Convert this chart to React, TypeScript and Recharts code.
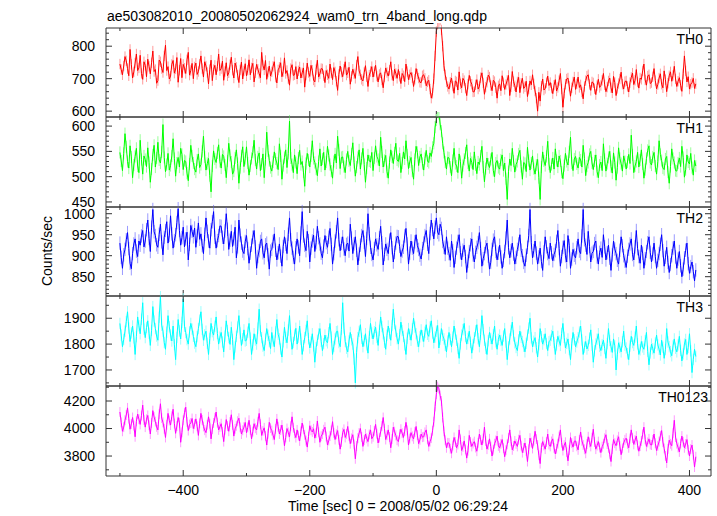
import React from 'react';
import { LineChart, Line, XAxis, YAxis, ErrorBar } from 'recharts';

// light curves sampled every DT seconds starting at T0
const T0 = -500;
const DT = 2;

const th0 = [
  745, 728, 712, 739, 768, 755, 731, 709, 790, 744, 702, 721, 748, 776, 725, 733, 772, 716, 698, 752,
  741, 706, 760, 738, 715, 749, 785, 722, 728, 686, 694, 757, 752, 731, 719, 770, 803, 725, 737, 699,
  708, 744, 756, 717, 730, 765, 689, 726, 762, 703, 744, 732, 716, 758, 781, 711, 725, 747, 700, 736,
  748, 713, 722, 745, 770, 731, 705, 752, 739, 719, 684, 728, 757, 694, 728, 741, 712, 738, 776, 725,
  731, 754, 695, 722, 749, 709, 718, 743, 766, 726, 702, 748, 735, 711, 688, 727, 751, 699, 724, 746,
  709, 726, 758, 712, 733, 747, 690, 718, 744, 729, 716, 703, 781, 741, 727, 756, 698, 720, 739, 708,
  721, 738, 752, 705, 687, 727, 735, 749, 706, 722, 764, 716, 725, 700, 680, 731, 743, 710, 712, 737,
  699, 724, 736, 702, 718, 733, 674, 711, 748, 719, 707, 741, 726, 696, 690, 728, 757, 705, 715, 731,
  730, 709, 688, 725, 712, 701, 745, 718, 697, 734, 721, 692, 664, 713, 739, 720, 706, 729, 752, 711,
  718, 735, 683, 707, 729, 715, 701, 742, 768, 724, 712, 698, 693, 719, 740, 706, 676, 711, 722, 737,
  705, 722, 741, 708, 690, 713, 718, 696, 672, 705, 733, 719, 708, 726, 752, 711, 694, 729, 716, 701,
  728, 707, 685, 716, 709, 691, 745, 722, 697, 712, 719, 703, 676, 698, 731, 714, 702, 689, 688, 709,
  712, 701, 678, 690, 695, 668, 640, 655, 700, 770, 845, 868, 875, 880, 850, 800, 740, 712, 690, 676,
  668, 689, 702, 677, 655, 693, 690, 665, 721, 684, 672, 701, 694, 671, 648, 683, 710, 692, 683, 659,
  660, 681, 697, 668, 676, 703, 718, 687, 652, 674, 689, 711, 705, 679, 663, 695, 691, 672, 640, 678,
  684, 663, 709, 688, 667, 682, 695, 710, 648, 675, 722, 691, 678, 659, 690, 704, 657, 686, 701, 670,
  675, 692, 645, 668, 693, 681, 712, 684, 662, 640, 600, 658, 631, 677, 699, 665, 670, 688, 708, 679,
  688, 671, 654, 680, 697, 662, 673, 694, 716, 668, 612, 655, 683, 699, 702, 677, 646, 672, 690, 705,
  667, 684, 705, 673, 681, 659, 638, 676, 694, 708, 712, 682, 664, 690, 687, 669, 651, 679, 698, 673,
  679, 695, 716, 681, 660, 674, 693, 702, 672, 656, 707, 688, 648, 670, 685, 699, 720, 683, 668, 691,
  693, 676, 659, 688, 704, 717, 682, 695, 728, 690, 671, 702, 698, 724, 745, 696, 680, 708, 712, 685,
  688, 706, 731, 694, 669, 682, 702, 715, 683, 672, 724, 697, 660, 686, 709, 721, 692, 710, 738, 699,
  676, 692, 703, 680, 661, 715, 770, 724, 690, 706, 668, 683, 688, 701, 670, 684,
];

const th1 = [
  548, 531, 512, 546, 585, 559, 530, 517, 561, 539, 498, 523, 540, 556, 521, 508, 572, 534, 505, 541,
  534, 520, 557, 528, 489, 515, 543, 562, 519, 537, 568, 533, 527, 549, 603, 538, 510, 524, 546, 513,
  522, 541, 575, 536, 501, 527, 538, 519, 556, 544, 514, 532, 530, 507, 492, 525, 562, 541, 527, 515,
  509, 533, 545, 518, 524, 550, 580, 539, 513, 526, 536, 502, 470, 521, 551, 535, 528, 547, 563, 530,
  517, 544, 540, 523, 498, 531, 566, 542, 529, 505, 511, 537, 553, 526, 487, 518, 541, 559, 520, 536,
  559, 527, 503, 521, 536, 548, 572, 533, 515, 539, 547, 512, 525, 545, 498, 534, 588, 551, 532, 518,
  511, 529, 549, 535, 527, 514, 565, 541, 495, 522, 538, 553, 518, 546, 610, 537, 524, 508, 543, 528,
  506, 537, 552, 524, 530, 509, 481, 526, 546, 533, 519, 541, 571, 536, 528, 515, 502, 530, 555, 521,
  535, 548, 513, 529, 560, 542, 524, 511, 497, 530, 545, 527, 580, 553, 516, 538, 539, 520, 508, 534,
  550, 531, 522, 545, 567, 528, 501, 519, 538, 553, 515, 536, 556, 524, 489, 517, 543, 531, 529, 548,
  512, 537, 561, 540, 534, 521, 578, 549, 519, 532, 542, 510, 497, 528, 553, 539, 526, 547, 566, 533,
  530, 546, 508, 527, 549, 535, 571, 543, 516, 529, 538, 511, 495, 534, 560, 548, 522, 539, 545, 526,
  513, 536, 552, 531, 528, 547, 540, 558, 566, 598, 612, 630, 625, 604, 590, 566, 548, 529, 515, 538,
  537, 519, 502, 532, 556, 526, 521, 508, 545, 530, 497, 522, 534, 547, 563, 527, 511, 536, 528, 514,
  549, 523, 506, 529, 524, 541, 560, 519, 490, 516, 537, 525, 518, 534, 548, 512, 500, 527, 532, 518,
  515, 533, 543, 512, 527, 496, 455, 510, 535, 522, 556, 531, 509, 524, 530, 545, 552, 520, 495, 528,
  526, 510, 558, 532, 513, 527, 541, 516, 505, 523, 534, 498, 455, 519, 549, 531, 522, 540, 570, 525,
  508, 524, 537, 515, 555, 532, 519, 541, 531, 509, 496, 522, 546, 530, 523, 549, 578, 527, 512, 535,
  540, 525, 517, 538, 533, 519, 562, 536, 502, 521, 528, 544, 550, 527, 514, 531, 543, 510, 498, 523,
  529, 512, 565, 534, 511, 526, 538, 550, 520, 507, 547, 528, 493, 518, 557, 536, 526, 511, 541, 530,
  515, 529, 544, 526, 582, 543, 508, 521, 530, 548, 519, 533, 553, 525, 497, 514, 536, 552, 561, 528,
  523, 539, 548, 521, 505, 530, 571, 544, 532, 517, 514, 535, 540, 509, 487, 520, 555, 536, 528, 512,
  511, 527, 537, 520, 560, 538, 499, 514, 543, 529, 525, 546, 518, 503, 532, 521,
];

const th2 = [
  930, 896, 870, 902, 915, 938, 955, 917, 882, 869, 905, 928, 940, 911, 898, 935, 925, 947, 960, 921,
  935, 962, 985, 941, 910, 968, 1010, 957, 948, 926, 920, 951, 975, 933, 902, 944, 960, 981, 930, 949,
  995, 952, 918, 936, 950, 979, 1012, 960, 925, 943, 968, 921, 940, 956, 890, 927, 972, 958, 945, 966,
  920, 947, 978, 939, 952, 924, 905, 951, 990, 958, 935, 918, 962, 981, 1005, 944, 918, 936, 948, 971,
  970, 944, 928, 959, 1000, 963, 915, 937, 958, 922, 940, 968, 895, 921, 985, 949, 930, 911, 905, 934,
  948, 917, 882, 906, 925, 944, 960, 921, 870, 898, 912, 934, 940, 907, 895, 926, 930, 902, 868, 911,
  915, 934, 952, 913, 890, 907, 928, 899, 875, 922, 945, 927, 905, 951, 990, 938, 918, 896, 880, 919,
  940, 921, 900, 954, 1005, 947, 925, 912, 958, 936, 885, 918, 935, 949, 910, 931, 970, 943, 928, 906,
  895, 923, 948, 931, 920, 944, 965, 927, 880, 905, 935, 957, 990, 938, 912, 929, 945, 916, 900, 927,
  930, 911, 975, 942, 905, 928, 945, 913, 878, 904, 925, 948, 960, 932, 898, 941, 1000, 952, 920, 903,
  890, 917, 940, 926, 915, 943, 970, 931, 878, 903, 928, 915, 905, 937, 955, 919, 885, 908, 930, 946,
  945, 922, 898, 911, 920, 947, 965, 928, 880, 906, 935, 918, 905, 933, 950, 924, 915, 901, 892, 917,
  930, 948, 960, 927, 905, 953, 985, 962, 940, 968, 990, 956, 950, 975, 965, 934, 920, 903, 945, 918,
  905, 889, 935, 912, 872, 896, 918, 934, 950, 907, 890, 913, 925, 898, 860, 887, 910, 926, 940, 902,
  885, 908, 920, 931, 955, 917, 875, 893, 905, 921, 930, 899, 868, 884, 915, 937, 945, 910, 890, 906,
  925, 897, 870, 889, 910, 942, 985, 919, 895, 912, 930, 904, 880, 896, 915, 928, 950, 913, 900, 884,
  875, 901, 920, 948, 1010, 931, 895, 912, 935, 906, 880, 897, 918, 886, 865, 909, 945, 921, 905, 893,
  930, 907, 888, 903, 912, 934, 960, 917, 875, 898, 920, 936, 900, 885, 948, 924, 870, 892, 915, 901,
  895, 919, 940, 911, 905, 947, 1010, 938, 925, 903, 958, 922, 885, 906, 910, 929, 935, 897, 880, 908,
  918, 896, 950, 921, 890, 907, 925, 894, 865, 902, 935, 916, 905, 889, 880, 913, 945, 924, 900, 887,
  872, 899, 915, 928, 940, 903, 890, 921, 960, 917, 898, 882, 925, 906, 870, 893, 910, 931, 945, 908,
  885, 904, 930, 898, 870, 889, 905, 927, 950, 912, 875, 896, 920, 884, 860, 879, 900, 918, 935, 897,
  870, 892, 910, 876, 850, 868, 895, 913, 930, 881, 858, 874, 885, 862, 840, 866,
];

const th3 = [
  1880, 1835, 1790, 1818, 1850, 1887, 1925, 1862, 1810, 1843, 1870, 1824, 1760, 1829, 1905, 1871, 1840, 1896, 1960, 1858,
  1825, 1864, 1890, 1842, 1795, 1853, 1945, 1889, 1860, 1831, 1815, 1904, 1985, 1873, 1850, 1806, 1780, 1846, 1910, 1867,
  1835, 1812, 1870, 1798, 1740, 1826, 1895, 1851, 1820, 1884, 1975, 1869, 1845, 1817, 1800, 1847, 1880, 1858, 1830, 1804,
  1790, 1829, 1860, 1893, 1925, 1857, 1815, 1836, 1850, 1803, 1760, 1822, 1880, 1848, 1835, 1869, 1905, 1841, 1800, 1827,
  1845, 1808, 1770, 1831, 1890, 1852, 1825, 1799, 1865, 1818, 1740, 1789, 1830, 1866, 1910, 1843, 1795, 1821, 1855, 1812,
  1815, 1846, 1880, 1823, 1760, 1797, 1840, 1816, 1800, 1862, 1935, 1851, 1825, 1792, 1775, 1819, 1860, 1834, 1810, 1783,
  1845, 1812, 1790, 1847, 1895, 1838, 1820, 1781, 1750, 1809, 1865, 1826, 1805, 1854, 1910, 1832, 1780, 1806, 1835, 1861,
  1800, 1827, 1870, 1819, 1760, 1794, 1825, 1853, 1890, 1821, 1785, 1808, 1840, 1793, 1730, 1786, 1815, 1839, 1860, 1811,
  1775, 1802, 1835, 1813, 1805, 1844, 1880, 1827, 1760, 1791, 1820, 1848, 1850, 1806, 1790, 1857, 1960, 1862, 1810, 1784,
  1770, 1812, 1845, 1817, 1800, 1742, 1650, 1768, 1825, 1849, 1875, 1822, 1790, 1813, 1840, 1797, 1765, 1829, 1880, 1843,
  1820, 1848, 1865, 1826, 1795, 1853, 1905, 1868, 1840, 1807, 1780, 1834, 1870, 1841, 1815, 1872, 1935, 1879, 1850, 1821,
  1800, 1836, 1885, 1852, 1830, 1797, 1760, 1823, 1860, 1838, 1815, 1859, 1900, 1866, 1840, 1811, 1790, 1828, 1855, 1832,
  1810, 1846, 1875, 1838, 1830, 1866, 1890, 1843, 1805, 1827, 1850, 1872, 1785, 1819, 1860, 1834, 1820, 1795, 1770, 1812,
  1845, 1818, 1790, 1827, 1870, 1839, 1815, 1783, 1745, 1801, 1835, 1856, 1880, 1829, 1800, 1822, 1850, 1807, 1765, 1798,
  1825, 1851, 1875, 1821, 1790, 1838, 1910, 1856, 1815, 1784, 1760, 1813, 1845, 1822, 1800, 1836, 1870, 1809, 1780, 1818,
  1835, 1814, 1795, 1831, 1860, 1808, 1740, 1789, 1820, 1853, 1885, 1832, 1805, 1787, 1775, 1816, 1850, 1826, 1810, 1792,
  1770, 1803, 1835, 1862, 1900, 1824, 1790, 1811, 1825, 1786, 1750, 1798, 1860, 1829, 1800, 1817, 1840, 1802, 1775, 1809,
  1815, 1833, 1850, 1806, 1760, 1797, 1830, 1812, 1795, 1841, 1880, 1826, 1785, 1803, 1820, 1779, 1740, 1801, 1845, 1817,
  1790, 1808, 1825, 1847, 1870, 1816, 1760, 1788, 1810, 1781, 1795, 1823, 1855, 1796, 1730, 1774, 1800, 1819, 1840, 1791,
  1775, 1798, 1815, 1783, 1745, 1802, 1860, 1814, 1790, 1768, 1820, 1793, 1700, 1761, 1805, 1787, 1770, 1809, 1850, 1796,
  1785, 1763, 1740, 1792, 1830, 1806, 1795, 1827, 1870, 1801, 1760, 1778, 1810, 1789, 1780, 1813, 1845, 1772, 1720, 1766,
  1800, 1782, 1765, 1804, 1835, 1797, 1780, 1758, 1815, 1788, 1745, 1779, 1860, 1808, 1790, 1771, 1755, 1793, 1820, 1784,
  1770, 1797, 1830, 1776, 1735, 1762, 1800, 1818, 1760, 1787, 1840, 1774, 1690, 1741, 1780, 1752,
];

const th0123 = [
  4120, 4045, 3980, 4010, 4060, 4098, 4150, 4072, 3995, 4033, 4080, 4021, 3940, 4052, 4105, 4068, 4030, 4094, 4170, 4062,
  4010, 4067, 4095, 4024, 3960, 4041, 4130, 4083, 4050, 4012, 3990, 4104, 4180, 4076, 4045, 3998, 3935, 4027, 4110, 4058,
  4025, 4089, 4140, 4036, 3965, 4018, 4080, 4042, 3900, 3972, 4060, 4115, 4155, 4048, 3985, 4029, 4040, 4073, 4000, 4031,
  4070, 4016, 3950, 4038, 4110, 4062, 4015, 3988, 3970, 4027, 4085, 4035, 3925, 3996, 4040, 4077, 4120, 4043, 3990, 4012,
  4035, 3974, 3905, 3992, 4065, 4018, 3980, 4047, 4100, 4026, 3945, 3998, 4020, 4053, 4075, 4009, 3960, 3987, 4010, 4044,
  3970, 4008, 4060, 3991, 3925, 3978, 4035, 4002, 3990, 4049, 4110, 4031, 3950, 3983, 4005, 3946, 3880, 3962, 4045, 4003,
  3985, 3951, 3920, 3997, 4070, 4013, 3960, 3989, 4025, 3954, 3875, 3936, 4000, 3972, 3940, 4017, 4085, 4006, 3965, 3934,
  3990, 3948, 3910, 3979, 4040, 3993, 3955, 3912, 3865, 3941, 4020, 3987, 3975, 3998, 3930, 3966, 4055, 3973, 3900, 3944,
  3960, 3991, 4010, 3942, 3880, 3913, 3945, 3986, 4050, 3969, 3920, 3958, 3985, 3917, 3850, 3902, 3970, 3994, 3935, 3961,
  4015, 3947, 3890, 3928, 3955, 3884, 3780, 3873, 3930, 3968, 4000, 3939, 3870, 3916, 3960, 3929, 3905, 3957, 3990, 3926,
  3940, 3983, 4030, 3962, 3895, 3934, 3975, 4018, 4080, 3999, 3920, 3951, 3990, 3938, 3860, 3924, 4010, 3977, 3950, 3915,
  3905, 3958, 3995, 3966, 3935, 3981, 4045, 3987, 3880, 3927, 3970, 3943, 3925, 3974, 4015, 3952, 3890, 3918, 3960, 3937,
  3940, 3972, 3990, 3921, 3870, 3905, 3930, 3984, 4050, 4160, 4250, 4305, 4290, 4240, 4200, 4080, 3980, 3915, 3860, 3896,
  3895, 3853, 3820, 3877, 3935, 3902, 3860, 3884, 3990, 3921, 3840, 3866, 3910, 3848, 3785, 3839, 3950, 3903, 3870, 3891,
  3905, 3862, 3835, 3896, 3960, 3918, 3880, 3927, 4010, 3909, 3850, 3881, 3925, 3868, 3800, 3846, 3890, 3913, 3945, 3874,
  3860, 3889, 3920, 3857, 3795, 3842, 3885, 3931, 3990, 3907, 3845, 3873, 3910, 3888, 3870, 3919, 3950, 3876, 3825, 3858,
  3895, 3837, 3760, 3849, 3930, 3898, 3855, 3912, 3980, 3923, 3880, 3806, 3745, 3861, 3905, 3877, 3850, 3902, 3960, 3884,
  3870, 3906, 3925, 3859, 3815, 3853, 3890, 3942, 3990, 3897, 3840, 3879, 3900, 3828, 3765, 3843, 3935, 3894, 3865, 3908,
  3910, 3871, 3845, 3917, 3975, 3911, 3880, 3849, 3820, 3887, 3940, 3899, 3870, 3933, 3995, 3902, 3850, 3876, 3905, 3862,
  3825, 3868, 3890, 3929, 3955, 3887, 3860, 3812, 3760, 3851, 3920, 3893, 3875, 3914, 3940, 3872, 3810, 3856, 3895, 3918,
  3930, 3889, 3860, 3927, 3990, 3931, 3885, 3916, 3945, 3878, 3835, 3872, 3910, 3958, 4010, 3921, 3870, 3899, 3925, 3884,
  3880, 3917, 3960, 3893, 3840, 3874, 3905, 3947, 3985, 3902, 3855, 3801, 3750, 3852, 3915, 3889, 3875, 3966, 4060, 3938,
  3890, 3862, 3830, 3891, 3945, 3903, 3860, 3887, 3920, 3846, 3800, 3851, 3880, 3809, 3720, 3795,
];

const xDomain: [number, number] = [-522, 434];
const xMajor = [-400, -200, 0, 200, 400];
const xAll = [-500, -400, -300, -200, -100, 0, 100, 200, 300, 400];
const xLabels = [-400, -200, 0, 200, 400];

const range = (a: number, b: number, s: number) => {
  const out: number[] = [];
  for (let v = a; v <= b + 1e-9; v += s) out.push(v);
  return out;
};

const panels = [
  { name: 'TH0', values: th0, color: '#ff0000', light: '#ff9a9a', err: 16, domain: [582, 856], labels: [600, 700, 800], minor: range(600, 840, 20), top: 28, height: 89, nameX: 703 },
  { name: 'TH1', values: th1, color: '#00ff00', light: '#9aff9a', err: 12, domain: [440, 618], labels: [450, 500, 550, 600], minor: range(450, 610, 10), top: 117, height: 90, nameX: 703 },
  { name: 'TH2', values: th2, color: '#0000ff', light: '#9a9aff', err: 16, domain: [804, 1016], labels: [850, 900, 950, 1000], minor: range(810, 1010, 10), top: 207, height: 89, nameX: 703 },
  { name: 'TH3', values: th3, color: '#00ffff', light: '#9affff', err: 22, domain: [1638, 1986], labels: [1700, 1800, 1900], minor: range(1650, 1950, 50), top: 296, height: 90, nameX: 703 },
  { name: 'TH0123', values: th0123, color: '#ff00ff', light: '#ff9aff', err: 36, domain: [3655, 4309], labels: [3800, 4000, 4200], minor: range(3700, 4300, 100), top: 386, height: 90, nameX: 708 },
];

const frame = '#333333';
const W = 717;
const fmt = (v: number) => (v < 0 ? `\u2212${Math.abs(v)}` : `${v}`);

// draws a tick mark pointing into the plot; majors are longer
const tickMark = (dx: number, dy: number, majors: number[]) => (props: any) => {
  const { x, y, payload } = props;
  const len = majors.includes(payload.value) ? 6 : 3;
  return <line x1={x} y1={y} x2={x + dx * len} y2={y + dy * len} stroke={frame} strokeWidth={1} />;
};

function Panel({ p, last }: { p: (typeof panels)[number]; last: boolean }) {
  const data = p.values.map((v, i) => ({ t: T0 + DT * i, v, e: p.err }));
  const axisH = last ? 30 : 0;
  const chartH = 5 + p.height + (last ? axisH : 5);
  const xc = { dataKey: 't', type: 'number' as const, domain: xDomain, allowDataOverflow: true, interval: 0 as const };
  const yc = { dataKey: 'v', type: 'number' as const, domain: p.domain as [number, number], allowDataOverflow: true, interval: 0 as const };
  const yTicks = [...p.minor, ...p.labels.filter((v) => !p.minor.includes(v))].sort((a, b) => a - b);
  return (
    <div style={{ position: 'absolute', left: 0, top: p.top - 5 }}>
      <LineChart width={W} height={chartH} data={data} margin={{ top: 5, right: 6, bottom: last ? 0 : 5, left: 0 }}>
        <XAxis xAxisId="x" {...xc} orientation="bottom" mirror height={1} ticks={xAll} tickLine={false} tickSize={0} tickMargin={0} tick={tickMark(0, -1, xMajor)} axisLine={{ stroke: frame }} />
        <XAxis xAxisId="xt" {...xc} orientation="top" mirror height={1} ticks={xAll} tickLine={false} tickSize={0} tickMargin={0} tick={tickMark(0, 1, xMajor)} axisLine={{ stroke: frame }} />
        {last && (
          <XAxis xAxisId="xl" {...xc} orientation="bottom" height={axisH} ticks={xLabels} tickFormatter={fmt} tickLine={false} axisLine={false} tickSize={0} tickMargin={9} tick={{ fill: '#000', fontSize: 14 }} />
        )}
        <YAxis yAxisId="y" {...yc} orientation="left" width={106} ticks={p.labels} tickLine={false} axisLine={false} tickSize={0} tickMargin={11} tick={{ fill: '#000', fontSize: 14 }} />
        <YAxis yAxisId="yl" {...yc} orientation="left" mirror width={1} ticks={yTicks} tickLine={false} tickSize={0} tickMargin={0} tick={tickMark(1, 0, p.labels)} axisLine={{ stroke: frame }} />
        <YAxis yAxisId="yr" {...yc} orientation="right" mirror width={1} ticks={yTicks} tickLine={false} tickSize={0} tickMargin={0} tick={tickMark(-1, 0, p.labels)} axisLine={{ stroke: frame }} />
        <Line xAxisId="x" yAxisId="y" dataKey="v" stroke={p.color} strokeOpacity={0} dot={false} isAnimationActive={false}>
          <ErrorBar dataKey="e" width={0} stroke={p.light} strokeWidth={1} direction="y" isAnimationActive={false} />
        </Line>
        <Line xAxisId="x" yAxisId="y" dataKey="v" stroke={p.color} strokeWidth={1} dot={false} isAnimationActive={false} />
      </LineChart>
    </div>
  );
}

export default function App() {
  return (
    <div style={{ position: 'absolute', left: 0, top: 0, width: W, height: 516, background: '#fff', fontFamily: '"Liberation Sans", Arial, sans-serif' }}>
      {panels.map((p, i) => (
        <Panel key={p.name} p={p} last={i === panels.length - 1} />
      ))}
      <svg width={W} height={516} style={{ position: 'absolute', left: 0, top: 0, pointerEvents: 'none' }}>
        <text x={107} y={21} fontSize={14} fill="#000">ae503082010_20080502062924_wam0_trn_4band_long.qdp</text>
        {panels.map((p) => (
          <text key={p.name} x={p.nameX} y={p.top + 15.5} fontSize={14} fill="#000" textAnchor="end">{p.name}</text>
        ))}
        <text x={52} y={251} fontSize={14} fill="#000" textAnchor="middle" transform="rotate(-90 52 251)">Counts/sec</text>
        <text x={398} y={511} fontSize={14} fill="#000" textAnchor="middle">Time [sec] 0 = 2008/05/02 06:29:24</text>
      </svg>
    </div>
  );
}
